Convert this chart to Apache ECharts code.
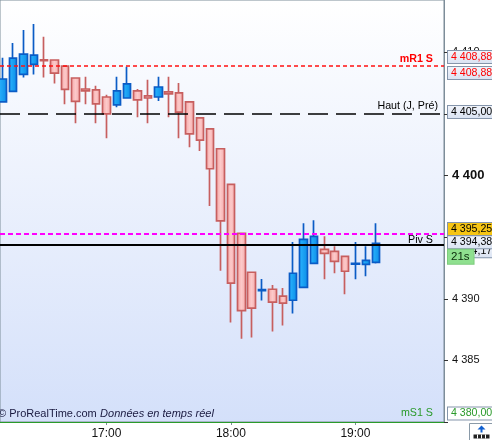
<!DOCTYPE html>
<html><head><meta charset="utf-8">
<script src="https://cdn.jsdelivr.net/npm/echarts@6/dist/echarts.min.js"></script>
<style>html,body{margin:0;padding:0;background:#fff}#c{width:492px;height:440px}</style>
</head><body><div id="c"></div>
<script>
// ---- data ----
const times = ['16:10','16:15','16:20','16:25','16:30','16:35','16:40','16:45','16:50','16:55',
  '17:00','17:05','17:10','17:15','17:20','17:25','17:30','17:35','17:40','17:45','17:50','17:55',
  '18:00','18:05','18:10','18:15','18:20','18:25','18:30','18:35','18:40','18:45','18:50','18:55',
  '19:00','19:05','19:10'];
const opens = [4405.97,4406.83,4408.20,4409.01,4409.39,4409.37,4408.88,4407.91,4407.02,4406.94,
  4406.37,4405.73,4406.29,4406.86,4406.46,4406.37,4406.78,4406.70,4405.97,4404.68,4403.79,4402.17,
  4399.28,4395.30,4392.15,4390.65,4390.77,4390.21,4389.88,4390.93,4392.87,4394.01,4393.84,4393.44,
  4392.80,4392.79,4392.95];
const closes = [4407.83,4409.53,4409.85,4409.77,4409.31,4408.31,4406.99,4406.02,4406.86,4405.81,
  4405.00,4406.86,4407.43,4406.13,4406.29,4407.18,4406.62,4405.15,4403.38,4402.87,4400.55,4396.32,
  4391.26,4389.04,4389.24,4390.75,4389.72,4389.64,4392.07,4394.81,4395.06,4393.68,4393.04,4392.23,
  4392.88,4393.12,4394.49];
const lows = [4405.97,4406.83,4407.96,4408.20,4407.96,4407.47,4405.78,4404.24,4405.78,4404.24,
  4403.03,4405.53,4406.29,4404.73,4404.24,4406.05,4404.73,4403.03,4402.30,4401.98,4397.53,4392.28,
  4388.07,4386.75,4386.86,4389.85,4387.34,4387.83,4388.80,4390.93,4392.87,4391.58,4392.07,4390.37,
  4391.58,4391.82,4392.87];
const highs = [4409.55,4410.76,4411.81,4412.30,4411.25,4409.37,4408.88,4407.91,4408.02,4407.29,
  4406.56,4408.02,4408.82,4407.02,4407.77,4408.02,4408.02,4407.51,4405.97,4404.68,4403.79,4402.17,
  4399.28,4395.30,4392.15,4391.60,4391.12,4390.88,4394.60,4396.13,4396.37,4395.08,4394.25,4393.44,
  4394.60,4394.25,4396.13];
const xTickLabels = ['17:00','18:00','19:00'];
const yTickValues = [4385, 4390, 4400, 4410];
const levelR1 = 4408.88, levelHaut = 4405.00, levelPivPink = 4395.25, levelPiv = 4394.38, levelS1 = 4380.00, lastPrice = 4394.17;
const levelTexts = {r1:'mR1 S', haut:'Haut (J, Pré)', piv:'Piv S', s1:'mS1 S', timer:'21s'};

// ---- helpers ----
const toMin = t => { const [h,m] = t.split(':').map(Number); return h*60+m; };
const fmtPrice = (v, dec) => { const s = v.toFixed(dec).replace('.', ','); const [i, f] = s.split(','); const ii = i.replace(/\B(?=(\d{3})+(?!\d))/g,' '); return f ? ii + ',' + f : ii; };
const fmtTime = m => String(Math.floor(m/60)).padStart(2,'0') + ':' + String(m%60).padStart(2,'0');

const candleData = times.map((t,i) => [toMin(t), opens[i], closes[i], lows[i], highs[i]]);
const FONT = '"Liberation Sans", Arial, sans-serif';
const HIDDEN = {width:0, color:'rgba(0,0,0,0)', opacity:1};
const LBL = 10.7;

const box = (bg, color, dy, text) => ({
  show: true, position: 'end', distance: [4, 0], offset: [0, dy], opacity: 1,
  formatter: text,
  color, backgroundColor: bg, borderColor: '#8595ab', borderWidth: 1,
  padding: [1, 8, 0, 3], fontSize: 10.6, lineHeight: 11, fontFamily: FONT
});
const boxBg = new echarts.graphic.LinearGradient(0,0,0,1,[{offset:0,color:'#f3f6fc'},{offset:1,color:'#d9e2f2'}]);

const chart = echarts.init(document.getElementById('c'), null, {renderer:'canvas'});
chart.setOption({
  animation: false,
  grid: {
    left: -1, right: 48, top: 0, bottom: 18, show: true,
    backgroundColor: new echarts.graphic.LinearGradient(0,0,0,1,[{offset:0,color:'#ffffff'},{offset:1,color:'#d4e0fa'}]),
    borderColor: '#7d8d99', borderWidth: 1
  },
  xAxis: {
    type: 'value', min: 968.7, max: 1182.7,
    splitLine: {show:false},
    axisLine: {lineStyle:{color:'#7d8d99', width:1}},
    axisTick: {show:true, inside:false, length:3, lineStyle:{color:'#7d8d99'}, customValues: xTickLabels.map(toMin)},
    axisLabel: {customValues: xTickLabels.map(toMin), formatter: v => fmtTime(Math.round(v)), color:'#111', fontSize:12, fontFamily:FONT, margin:6}
  },
  yAxis: {
    type: 'value', position: 'right', min: 4380, max: 4414.24, interval: 5,
    splitLine: {show:false},
    axisLine: {show:true, lineStyle:{color:'#7d8d99', width:1}},
    axisTick: {show:true, length:4, lineStyle:{color:'#333'}, customValues: [4380,4385,4390,4395,4400,4405,4410]},
    axisLabel: {
      customValues: yTickValues, margin: 8, color:'#111', fontSize: 11, fontFamily: FONT,
      formatter: v => { const r = Math.round(v); return r === 4400 ? '{b|' + fmtPrice(r,0) + '}' : fmtPrice(r,0); },
      rich: {b: {fontSize: 13, fontWeight:'bold', color:'#111', fontFamily: FONT}}
    }
  },
  series: [{
    type: 'candlestick',
    data: candleData,
    barWidth: 8,
    clip: false,
    itemStyle: {
      color: new echarts.graphic.LinearGradient(0,0,1,0,[{offset:0,color:'#2cb6ff'},{offset:1,color:'#0a8ce6'}]),
      color0: new echarts.graphic.LinearGradient(0,0,1,0,[{offset:0,color:'#f5a3a3'},{offset:0.5,color:'#fcc9c9'},{offset:1,color:'#f5a8a8'}]),
      borderColor: '#0b5cc6', borderColor0: '#c75f5f', borderWidth: 1.7
    },
    markLine: {
      silent: true, symbol: ['none','none'], animation: false,
      data: [
        {yAxis: levelR1, lineStyle:{color:'#ff1010', type:[4,3], width:1.5},
          label:{show:true, position:'insideEndTop', distance:[11,2], formatter: levelTexts.r1, color:'#ff0000', fontWeight:'bold', fontSize:LBL, fontFamily:FONT}},
        {yAxis: levelHaut, lineStyle:{color:'#000', type:[20,8], width:1.5},
          label:{show:true, position:'insideEndTop', distance:[6,2], formatter: levelTexts.haut, color:'#000', fontSize:LBL, fontFamily:FONT}},
        {yAxis: levelPivPink, lineStyle:{color:'#ff00ff', type:[5,3], width:2}, label:{show:false}},
        {yAxis: levelPiv, lineStyle:{color:'#000', type:'solid', width:2},
          label:{show:true, position:'insideEndTop', distance:[11,-1], formatter: levelTexts.piv, color:'#000', fontSize:LBL, fontFamily:FONT}},
        {yAxis: levelS1, lineStyle:{color:'#2a9a2a', type:'solid', width:1},
          label:{show:true, position:'insideEndTop', distance:[11,3], formatter: levelTexts.s1, color:'#2a9a2a', fontSize:LBL, fontFamily:FONT}},
        // right axis boxes
        {yAxis: levelR1, lineStyle: HIDDEN, label: box(boxBg,'#ff0000',-9, fmtPrice(levelR1,2))},
        {yAxis: levelR1, lineStyle: HIDDEN, label: box(boxBg,'#ff0000',7, fmtPrice(levelR1,2))},
        {yAxis: levelHaut, lineStyle: HIDDEN, label: box(boxBg,'#000',-2, fmtPrice(levelHaut,2))},
        {yAxis: levelPivPink, lineStyle: HIDDEN, label: box('#f6c514','#000',-5, fmtPrice(levelPivPink,2))},
        {yAxis: lastPrice, lineStyle: HIDDEN, label: box(boxBg,'#000',4, fmtPrice(lastPrice,2))},
        {yAxis: levelPiv, lineStyle: HIDDEN, label: box(boxBg,'#000',-2.5, fmtPrice(levelPiv,2))},
        {yAxis: levelPiv, lineStyle: HIDDEN, label: {show:true, position:'end', distance:[4,0], offset:[0,12], opacity:1, formatter: levelTexts.timer,
          color:'#0a2a0a', backgroundColor:'#8fe08f', borderColor:'#7ccc7c', borderWidth:1, padding:[1,4,1,3], fontSize:11.5, lineHeight:12, fontFamily:FONT}},
        {yAxis: levelS1, lineStyle: HIDDEN, label: box('#ffffff','#2a9a2a',-8.5, fmtPrice(levelS1,2))}
      ]
    }
  }],
  graphic: [
    {type:'text', left:-2, top:408, style:{
      text:'{a|© ProRealTime.com} {i|Données en temps réel}',
      rich:{a:{fontSize:11, fontFamily:FONT, fill:'#1a1a40'}, i:{fontSize:11, fontFamily:FONT, fontStyle:'italic', fill:'#1a1a40'}}
    }},
    {type:'group', left:469, top:423, children:[
      {type:'rect', shape:{x:0,y:0,width:24,height:18}, style:{fill:'#fff', stroke:'#8a9aa8', lineWidth:1}},
      {type:'polygon', shape:{points:[[12,2],[8,6],[11,6],[11,9],[13,9],[13,6],[16,6]]}, style:{fill:'#1060d0'}},
      {type:'rect', shape:{x:4,y:11,width:16,height:4}, style:{fill:'#222'}},
      {type:'rect', shape:{x:7.5,y:11,width:1,height:4}, style:{fill:'#fff'}},
      {type:'rect', shape:{x:11.5,y:11,width:1,height:4}, style:{fill:'#fff'}},
      {type:'rect', shape:{x:15.5,y:11,width:1,height:4}, style:{fill:'#fff'}}
    ]}
  ]
});
</script></body></html>
